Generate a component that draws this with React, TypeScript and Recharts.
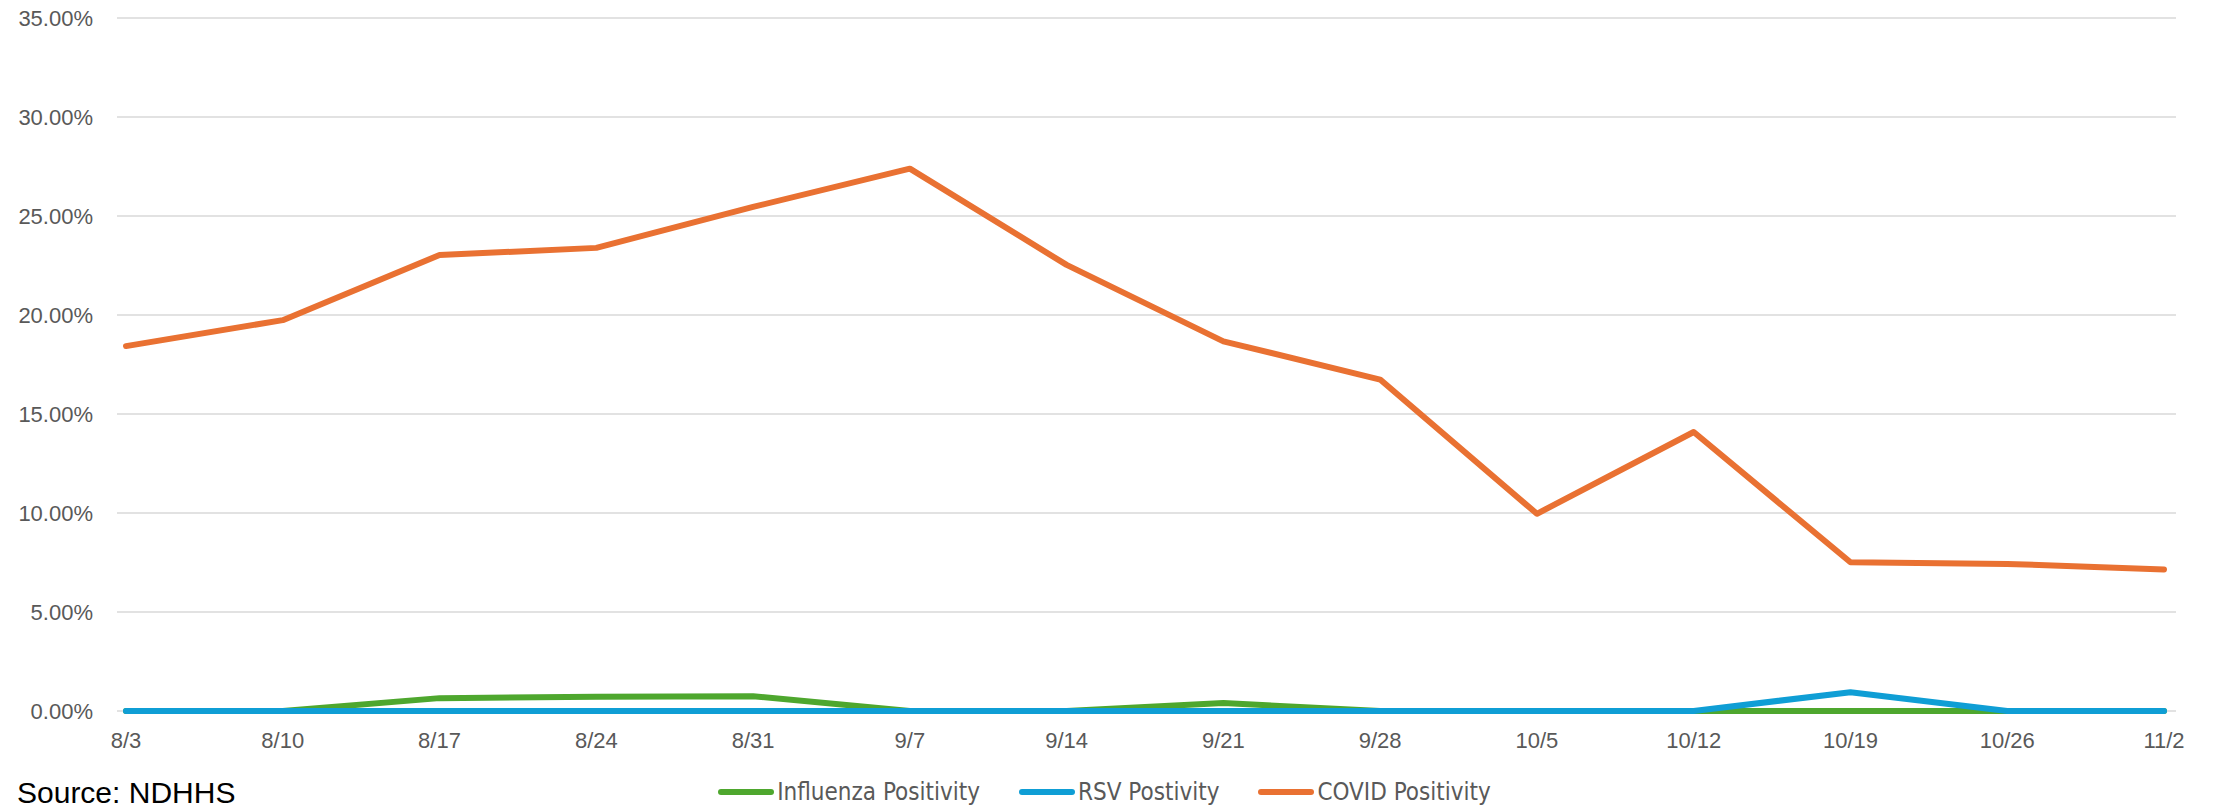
import React from 'react';
import { LineChart, Line, XAxis, YAxis, CartesianGrid, Legend } from 'recharts';

const categories = ['8/3', '8/10', '8/17', '8/24', '8/31', '9/7', '9/14', '9/21', '9/28', '10/5', '10/12', '10/19', '10/26', '11/2'];
const influenza = [0, 0, 0.0065, 0.0072, 0.0075, 0, 0, 0.004, 0, 0, 0, 0, 0, 0];
const rsv = [0, 0, 0, 0, 0, 0, 0, 0, 0, 0, 0, 0.0095, 0, 0];
const covid = [0.1843, 0.1974, 0.2303, 0.2339, 0.2546, 0.2739, 0.2253, 0.1867, 0.1674, 0.0996, 0.1409, 0.0751, 0.0743, 0.0715];
const yTicks = [0, 0.05, 0.1, 0.15, 0.2, 0.25, 0.3, 0.35];

const seriesDefs = [
  { key: 'influenza', name: 'Influenza Positivity', color: '#4EA72E' },
  { key: 'rsv', name: 'RSV Postivity', color: '#0F9ED5' },
  { key: 'covid', name: 'COVID Positivity', color: '#E97132' },
];

const data = categories.map((c, i) => ({ date: c, influenza: influenza[i], rsv: rsv[i], covid: covid[i] }));

const fmt = (v: number) => (v * 100).toFixed(2) + '%';

const LegendContent = () => (
  <div style={{ display: 'flex', justifyContent: 'center', alignItems: 'center', height: 30, paddingRight: 12 }}>
    {seriesDefs.map((s, i) => (
      <div key={s.key} style={{ display: 'flex', alignItems: 'center', marginRight: i < seriesDefs.length - 1 ? 39 : 0 }}>
        <div style={{ width: 56, height: 6, borderRadius: 3, background: s.color, marginRight: 3 }} />
        <span style={{ fontFamily: "'Liberation Sans Narrow', 'DejaVu Sans Condensed', sans-serif", fontSize: 24, color: '#595959', lineHeight: '30px' }}>{s.name}</span>
      </div>
    ))}
  </div>
);

export default function App() {
  return (
    <div style={{ position: 'absolute', left: 0, top: 0, width: 2221, height: 809, overflow: 'hidden', background: '#fff' }}>
      <LineChart width={2221} height={809} data={data} margin={{ top: 18, right: 45, bottom: 28, left: 0 }}>
        <CartesianGrid vertical={false} stroke="#D9D9D9" strokeWidth={1.5} />
        <XAxis
          dataKey="date"
          axisLine={false}
          tickLine={false}
          tickSize={0}
          tickMargin={21}
          height={40}
          interval={0}
          padding={{ left: 9, right: 12 }}
          tick={{ fill: '#595959', fontSize: 22, fontFamily: "'Liberation Sans', Arial, sans-serif" }}
        />
        <YAxis
          domain={[0, 0.35]}
          ticks={yTicks}
          tickFormatter={fmt}
          axisLine={false}
          tickLine={false}
          tickSize={0}
          tickMargin={24}
          width={117}
          tick={{ fill: '#595959', fontSize: 22, fontFamily: "'Liberation Sans', Arial, sans-serif" }}
        />
        <Legend verticalAlign="bottom" content={<LegendContent />} wrapperStyle={{ left: 0, width: 2221, bottom: 2, height: 30 }} />
        {seriesDefs.map((s) => (
          <Line
            key={s.key}
            type="linear"
            dataKey={s.key}
            name={s.name}
            stroke={s.color}
            strokeWidth={6}
            strokeLinecap="round"
            strokeLinejoin="round"
            dot={false}
            activeDot={false}
            isAnimationActive={false}
          />
        ))}
      </LineChart>
      <div style={{ position: 'absolute', left: 17, top: 777, fontFamily: "'Liberation Sans', Arial, sans-serif", fontSize: 30, color: '#000', whiteSpace: 'nowrap', lineHeight: '32px' }}>
        Source: NDHHS
      </div>
    </div>
  );
}
